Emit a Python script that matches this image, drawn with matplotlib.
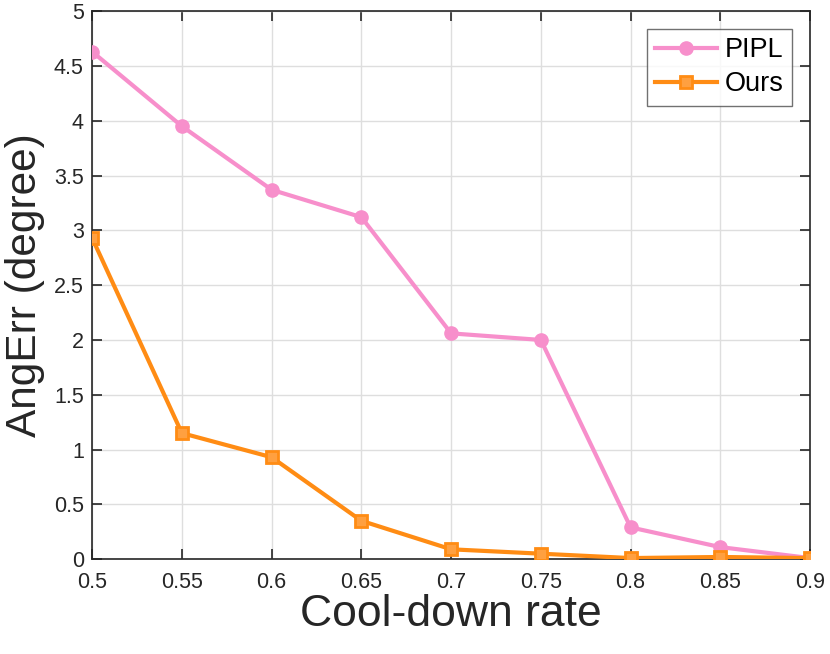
import matplotlib
matplotlib.use("Agg")
import matplotlib.pyplot as plt

plt.rcParams['font.family'] = ['Liberation Sans', 'DejaVu Sans']

# data
rates = [0.5, 0.55, 0.6, 0.65, 0.7, 0.75, 0.8, 0.85, 0.9]
pipl = [4.63, 3.95, 3.37, 3.12, 2.06, 2.00, 0.29, 0.11, 0.01]
ours = [2.93, 1.15, 0.93, 0.35, 0.09, 0.05, 0.01, 0.02, 0.01]
xticks = [0.5, 0.55, 0.6, 0.65, 0.7, 0.75, 0.8, 0.85, 0.9]
xticklabels = ['0.5', '0.55', '0.6', '0.65', '0.7', '0.75', '0.8', '0.85', '0.9']
yticks = [0, 0.5, 1, 1.5, 2, 2.5, 3, 3.5, 4, 4.5, 5]
yticklabels = ['0', '0.5', '1', '1.5', '2', '2.5', '3', '3.5', '4', '4.5', '5']

fig = plt.figure(figsize=(8.3, 6.54), dpi=100)
ax = fig.add_axes([0.111, 0.145, 0.865, 0.838])

ax.plot(rates, pipl, color='#f78fcb', lw=3, marker='o', ms=9.5,
        mfc='#f78fcb', mec='#f78fcb', label='PIPL', zorder=3)
ax.plot(rates, ours, color='#ff8c14', lw=3, marker='s', ms=9,
        mfc='#ffa040', mec='#ff8c14', mew=2, label='Ours', zorder=4)

ax.set_xlim(0.5, 0.9)
ax.set_ylim(0, 5)
ax.set_xticks(xticks)
ax.set_xticklabels(xticklabels)
ax.set_yticks(yticks)
ax.set_yticklabels(yticklabels)
ax.grid(True, color='#dedede', lw=1)
ax.set_axisbelow(True)
ax.tick_params(direction='in', length=7, width=1.2, colors='#262626',
               labelsize=15.5, top=True, right=True, pad=6)
ax.tick_params(axis='x', pad=9)
for s in ax.spines.values():
    s.set_color('#262626')
    s.set_linewidth(1.2)

ax.set_xlabel('Cool-down rate', fontsize=32, color='#262626', labelpad=1)
ax.set_ylabel('AngErr (degree)', fontsize=30.5, color='#262626', labelpad=6)

leg = ax.legend(loc='upper right', fontsize=19.5, frameon=True, fancybox=False,
                edgecolor='#4d4d4d', borderpad=0.3, handlelength=2.3,
                handletextpad=0.3, labelspacing=0.3, borderaxespad=0,
                bbox_to_anchor=(0.975, 0.967))
leg.get_frame().set_linewidth(1)

fig.savefig('out.png', dpi=100)
